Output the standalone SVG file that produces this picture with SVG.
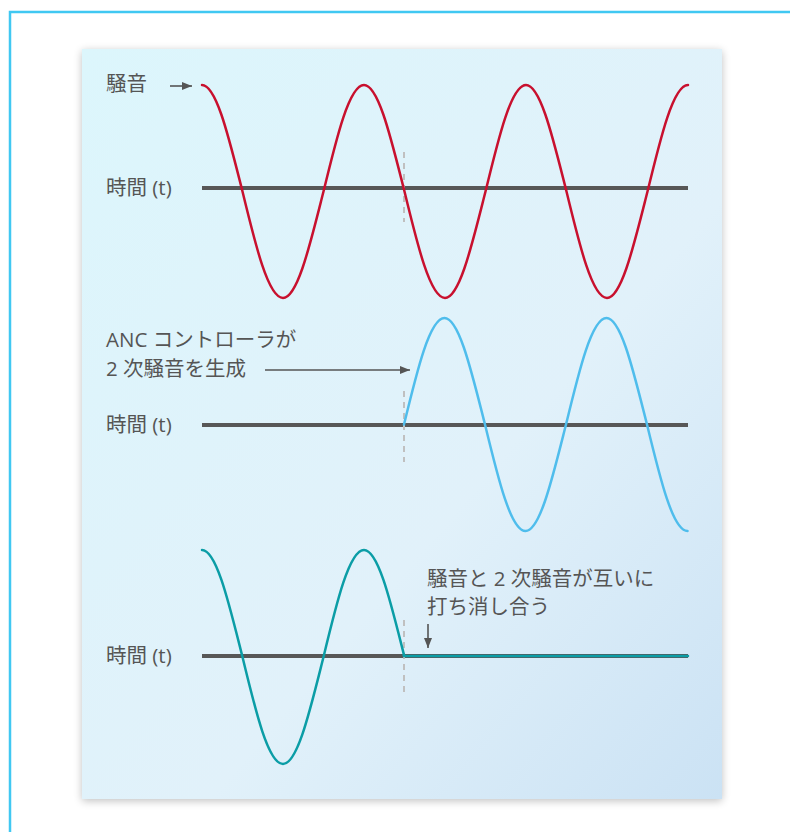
<svg xmlns="http://www.w3.org/2000/svg" width="790" height="832" viewBox="0 0 790 832">
<defs>
<linearGradient id="bg" x1="0" y1="0" x2="1" y2="1">
<stop offset="0" stop-color="#dcf6fc"/>
<stop offset="0.6" stop-color="#e1f1fa"/>
<stop offset="1" stop-color="#cbe2f4"/>
</linearGradient>
<filter id="sh" x="-10%" y="-10%" width="120%" height="120%">
<feGaussianBlur in="SourceAlpha" stdDeviation="4"/>
<feOffset dx="0" dy="2"/>
<feComponentTransfer><feFuncA type="linear" slope="0.25"/></feComponentTransfer>
<feMerge><feMergeNode/><feMergeNode in="SourceGraphic"/></feMerge>
</filter>
<marker id="ah" viewBox="0 0 10 10" refX="10" refY="5" markerWidth="10" markerHeight="10" markerUnits="userSpaceOnUse" orient="auto">
<path d="M0,1 L10,5 L0,9 Z" fill="#555"/>
</marker>
</defs>
<style>
.t{font-family:"Open Sans","Noto Sans CJK JP",sans-serif;font-size:20.5px;fill:#555}
.ax{stroke:#575757;stroke-width:4;fill:none}
.dash{stroke:#c0c0c0;stroke-width:2;stroke-dasharray:6 5;fill:none}
.w{fill:none;stroke-width:2.5;stroke-linecap:round}
.arr{stroke:#555;stroke-width:1.6;fill:none}
</style>
<rect x="10" y="12" width="800" height="840" fill="#fff" stroke="#40c8f2" stroke-width="2.5"/>
<rect id="panel" x="82" y="49" width="640" height="750" fill="url(#bg)" filter="url(#sh)"/>
<g id="axes">
<line class="ax" x1="202" y1="188" x2="688" y2="188"/>
<line class="ax" x1="202" y1="425" x2="688" y2="425"/>
<line class="ax" x1="202" y1="656" x2="688" y2="656"/>
</g>
<g id="dashes">
<line class="dash" x1="404" y1="152" x2="404" y2="222"/>
<line class="dash" x1="404" y1="391" x2="404" y2="462"/>
<line class="dash" x1="404" y1="620" x2="404" y2="692"/>
</g>
<g id="noise">
<path class="w" stroke="#c8102e" d="M202,85 c14.66,0 27.29,54.56 40.5,106.5 c13.21,54.56 25.84,106.5 40.5,106.5 c14.66,0 27.29,-54.56 40.5,-106.5 c13.21,-54.56 25.84,-106.5 40.5,-106.5 c14.66,0 27.290,54.56 40.5,106.5 c13.21,54.56 25.84,106.5 40.5,106.5 c14.66,0 27.29,-54.56 40.5,-106.5 c13.21,-54.56 25.84,-106.5 40.5,-106.5 c14.66,0 27.29,54.56 40.5,106.5 c13.21,54.56 25.84,106.5 40.5,106.5 c14.66,0 27.29,-54.56 40.5,-106.5 c13.21,-54.56 25.84,-106.5 40.5,-106.5"/>
</g>
<g id="anti">
<path class="w" stroke="#4fbdec" d="M404,424.5 c13.21,-54.56 25.84,-106.5 40.5,-106.5 c14.66,0 27.29,54.56 40.5,106.5 c13.21,54.56 25.84,106.5 40.5,106.5 c14.66,0 27.29,-54.56 40.5,-106.5 c13.21,-54.56 25.84,-106.5 40.5,-106.5 c14.66,0 27.29,54.56 40.5,106.5 c13.21,54.56 25.84,106.5 40.5,106.5"/>
</g>
<g id="result">
<path class="w" stroke="#0b9da6" d="M202,550 c14.66,0 27.29,54.8 40.5,107 c13.21,54.8 25.84,107 40.5,107 c14.66,0 27.29,-54.8 40.5,-107 c13.21,-54.8 25.84,-107 40.5,-107 c14.66,0 27.29,54.8 40.5,107 L404,656 H688"/>
</g>
<g id="labels">
<text class="t" x="106" y="91">騒音</text>
<text class="t" x="106" y="195">時間 (t)</text>
<text class="t" x="106" y="347">ANC コントローラが</text>
<text class="t" x="106" y="376">2 次騒音を生成</text>
<text class="t" x="106" y="432">時間 (t)</text>
<text class="t" x="106" y="663">時間 (t)</text>
<text class="t" x="427" y="586">騒音と 2 次騒音が互いに</text>
<text class="t" x="427" y="614">打ち消し合う</text>
</g>
<g id="connectors">
<line class="arr" x1="170" y1="86" x2="192" y2="86" marker-end="url(#ah)"/>
<line class="arr" x1="265" y1="370" x2="410" y2="370" marker-end="url(#ah)"/>
<line class="arr" x1="428" y1="624" x2="428" y2="648" marker-end="url(#ah)"/>
</g>
</svg>
